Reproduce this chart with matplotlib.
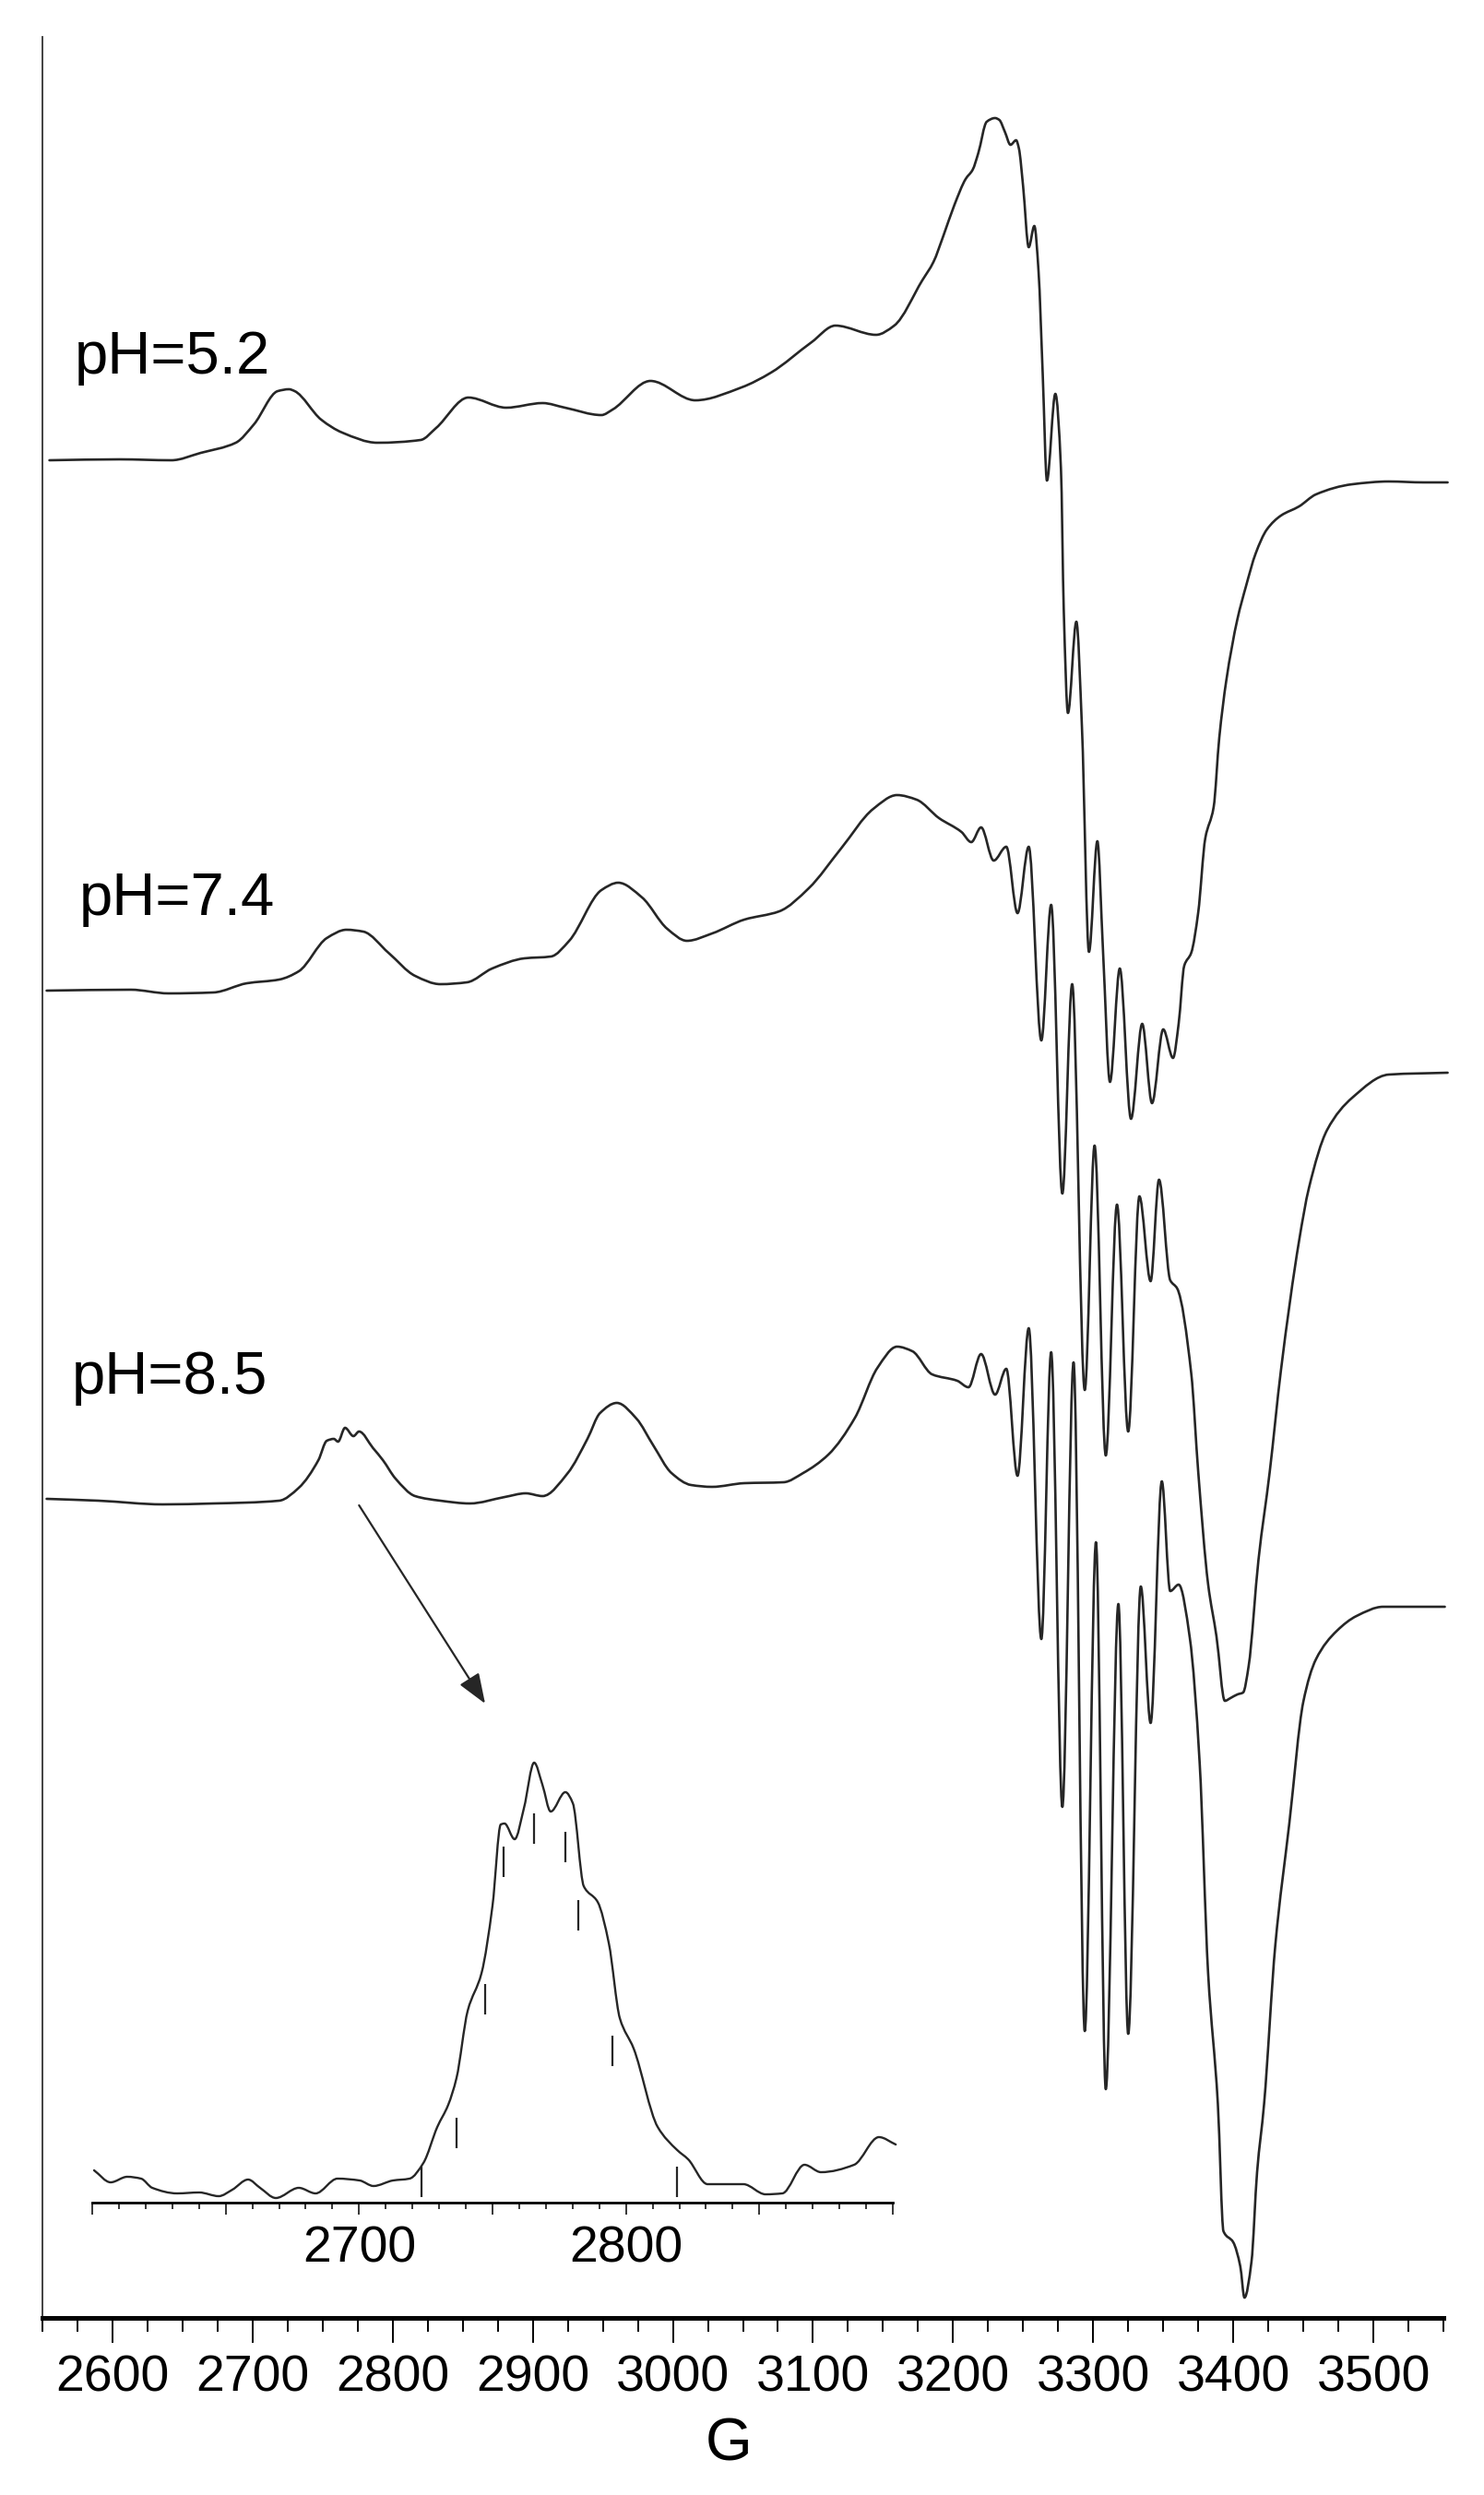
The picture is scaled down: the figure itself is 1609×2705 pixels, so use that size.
import numpy as np
import matplotlib
matplotlib.use('Agg')
import matplotlib.pyplot as plt
from matplotlib.ticker import MultipleLocator, FixedLocator, FixedFormatter
from matplotlib.path import Path
from matplotlib.patches import PathPatch

plt.rcParams['font.family'] = ['Liberation Sans', 'DejaVu Sans']

# ---------------- data (field in G, intensity in arbitrary units) ----------------
labels = ["pH=5.2", "pH=7.4", "pH=8.5"]
offsets = [2014, 1439, 887]

field_52 = [2555, 2605, 2642, 2663, 2688, 2701, 2718, 2726, 2730, 2749, 2764, 2789, 2820, 2831,
            2854, 2881, 2907, 2923, 2949, 2957, 2984, 3016, 3049, 3070, 3099, 3116, 3145, 3158,
            3178, 3186, 3193, 3201, 3209, 3214, 3218, 3224, 3230, 3233, 3237, 3241, 3245, 3247,
            3250, 3254, 3258, 3261, 3264, 3267, 3273, 3277, 3279, 3282, 3288, 3292, 3297, 3303,
            3307, 3312, 3319, 3327, 3335, 3342, 3350, 3357, 3361, 3365, 3370, 3375, 3380, 3386,
            3390, 3395, 3403, 3409, 3416, 3424, 3434, 3447, 3459, 3485, 3511, 3536, 3553]
int_52 = [0, 1, 0, 8, 19, 39, 75, 77, 75, 44, 30, 19, 22, 35,
          68, 57, 62, 57, 49, 55, 86, 65, 79, 95, 128, 146, 136, 146,
          195, 215, 243, 277, 305, 315, 333, 367, 371, 369, 356, 342, 347, 338,
          297, 231, 254, 205, 93, -22, 72, -9, -162, -274, -175, -290, -533, -413,
          -531, -674, -551, -714, -611, -697, -617, -648, -611, -548, -534, -490, -410, -376,
          -301, -239, -172, -137, -101, -75, -60, -50, -37, -26, -23, -24, -24]

field_74 = [2553, 2613, 2640, 2672, 2696, 2719, 2733, 2753, 2767, 2779, 2797, 2816, 2834, 2853,
            2871, 2894, 2913, 2926, 2949, 2961, 2978, 2996, 3010, 3028, 3051, 3076, 3097, 3120,
            3143, 3160, 3174, 3190, 3206, 3213, 3220, 3229, 3238, 3246, 3254, 3263, 3270, 3278,
            3285, 3294, 3301, 3309, 3317, 3325, 3333, 3341, 3347, 3355, 3360, 3370, 3375, 3382,
            3388, 3394, 3398, 3403, 3407, 3411, 3418, 3426, 3434, 3447, 3454, 3467, 3485, 3511,
            3553]
int_74 = [0, 1, -3, -2, 8, 12, 21, 57, 66, 64, 41, 16, 7, 9,
          24, 35, 37, 54, 109, 117, 101, 67, 54, 62, 77, 86, 111, 154,
          197, 212, 207, 187, 172, 161, 177, 141, 156, 84, 156, -54, 93, -220,
          7, -433, -168, -504, -232, -478, -223, -315, -205, -314, -323, -415, -522, -643,
          -700, -770, -767, -763, -761, -732, -617, -522, -412, -271, -214, -151, -116, -91,
          -89]

field_85 = [2553, 2590, 2636, 2672, 2719, 2733, 2747, 2753, 2758, 2761, 2766, 2772, 2776, 2786,
            2793, 2802, 2816, 2834, 2855, 2880, 2895, 2907, 2925, 2939, 2948, 2960, 2974, 2986,
            2999, 3013, 3028, 3051, 3079, 3093, 3111, 3130, 3146, 3160, 3171, 3185, 3203, 3211,
            3220, 3230, 3238, 3246, 3254, 3263, 3270, 3278, 3286, 3294, 3302, 3309, 3318, 3325,
            3334, 3341, 3349, 3355, 3361, 3369, 3376, 3382, 3389, 3393, 3400, 3405, 3408, 3413,
            3417, 3422, 3430, 3440, 3450, 3459, 3474, 3488, 3507, 3551]
int_85 = [1, -1, -5, -4, -1, 13, 43, 64, 66, 63, 78, 69, 74, 56,
          43, 23, 4, -1, -4, 3, 7, 4, 29, 66, 94, 105, 88, 59,
          29, 16, 14, 18, 19, 29, 49, 89, 143, 166, 161, 136, 129, 122,
          158, 114, 142, 26, 186, -151, 160, -333, 149, -576, -46, -639, -113, -579,
          -94, -242, 20, -99, -92, -150, -285, -512, -655, -793, -805, -831, -865, -826,
          -729, -655, -483, -351, -219, -173, -142, -126, -116, -116]

# inset: expanded view of the low-field pH=8.5 line
inset_field = [2600.7, 2606.9, 2613.1, 2618.3, 2622.5, 2631.8, 2640.1, 2647.4, 2652.5, 2658.4,
               2662.9, 2668.8, 2677.4, 2683.7, 2691.9, 2700.2, 2705.4, 2712.7, 2718.9, 2724.1,
               2729.3, 2733.4, 2736.5, 2740.7, 2745.9, 2750.0, 2753.1, 2754.5, 2758.3, 2761.8,
               2765.6, 2768.7, 2771.8, 2777.3, 2780.1, 2784.2, 2789.4, 2793.6, 2797.7, 2802.9,
               2811.9, 2819.2, 2823.3, 2830.6, 2836.8, 2844.0, 2852.3, 2858.6, 2866.9, 2873.1,
               2885.5, 2894.8, 2901.1]
inset_int = [35, 22, 28, 26, 16, 10, 11, 7, 14, 25,
             16, 5, 16, 10, 26, 24, 18, 24, 26, 43,
             82, 106, 135, 208, 249, 322, 410, 411, 394, 428,
             477, 453, 424, 445, 433, 343, 326, 281, 200, 167,
             82, 57, 47, 20, 20, 20, 9, 10, 41, 33,
             41, 71, 63]
stick_field = [2723.4, 2736.5, 2747.3, 2754.2, 2765.6, 2777.3, 2782.2, 2795.0, 2819.2]
stick_top = [39, 92, 237, 386, 422, 402, 328, 181, 39]
inset_ticks = [2600, 2650, 2700, 2750, 2800, 2850, 2900]
inset_ticklabels = ["", "", "2700", "", "2800", "", ""]


def smooth_path(x, y):
    """Monotone cubic (Bezier) path passing through the read points."""
    x = np.asarray(x, float)
    y = np.asarray(y, float)
    h = np.diff(x)
    d = np.diff(y) / h
    m = np.zeros_like(x)
    m[0], m[-1] = d[0], d[-1]
    for k in range(1, len(x) - 1):
        if d[k - 1] * d[k] > 0:
            w1 = 2 * h[k] + h[k - 1]
            w2 = h[k] + 2 * h[k - 1]
            m[k] = (w1 + w2) / (w1 / d[k - 1] + w2 / d[k])
    verts = [(x[0], y[0])]
    codes = [Path.MOVETO]
    for k in range(len(x) - 1):
        verts += [(x[k] + h[k] / 3, y[k] + m[k] * h[k] / 3),
                  (x[k + 1] - h[k] / 3, y[k + 1] - m[k + 1] * h[k] / 3),
                  (x[k + 1], y[k + 1])]
        codes += [Path.CURVE4] * 3
    return Path(verts, codes)


# ---------------- figure ----------------
W, H = 1609, 2705
fig = plt.figure(figsize=(W / 100, H / 100), dpi=100)
LC = '#262626'

ax = fig.add_axes([46 / W, (H - 2513) / H, (1565 - 46) / W, 2473 / H])
ax.set_xlim(2550, 3550)
ax.set_ylim(0, 2473)
for s in ['top', 'right']:
    ax.spines[s].set_visible(False)
ax.spines['bottom'].set_linewidth(3.6)
ax.spines['bottom'].set_color('black')
ax.spines['left'].set_linewidth(1.3)
ax.spines['left'].set_color('#333333')
ax.set_yticks([])
ax.xaxis.set_major_locator(MultipleLocator(100))
ax.xaxis.set_minor_locator(MultipleLocator(25))
ax.tick_params(axis='x', which='major', direction='out', length=19.5, width=1.4,
               labelsize=40, pad=9, color='black')
ax.tick_params(axis='x', which='minor', direction='out', length=10.8, width=1.4, color='black')

series = [(field_52, int_52), (field_74, int_74), (field_85, int_85)]
for (f, v), off in zip(series, offsets):
    p = smooth_path(f, np.asarray(v) + off)
    ax.add_patch(PathPatch(p, fill=False, edgecolor=LC, lw=1.9, clip_on=False,
                           joinstyle='round', capstyle='round', transform=ax.transData))

label_pos = [(2573, 2108), (2576, 1521), (2571, 1002)]
for lab, (lx, ly) in zip(labels, label_pos):
    ax.text(lx, ly, lab, fontsize=47, ha='left', va='baseline', color='black')

ax.annotate('', xy=(2866, 666), xytext=(2776, 881),
            arrowprops=dict(arrowstyle='-|>,head_length=1.0,head_width=0.38',
                            mutation_scale=20, color=LC, lw=1.6, shrinkA=0, shrinkB=0))

ax.set_xlabel('G', fontsize=47)
ax.xaxis.set_label_coords((790 - 46) / 1519, -(2667 - 2513) / 2473)
ax.xaxis.label.set_va('baseline')

# ---------------- inset ----------------
axi = fig.add_axes([100 / W, (H - 2388) / H, 868 / W, 508 / H])
axi.patch.set_alpha(0)
axi.set_xlim(2600, 2900)
axi.set_ylim(0, 508)
for s in ['top', 'right', 'left']:
    axi.spines[s].set_visible(False)
axi.spines['bottom'].set_linewidth(2.0)
axi.set_yticks([])
axi.xaxis.set_major_locator(FixedLocator(inset_ticks))
axi.xaxis.set_major_formatter(FixedFormatter(inset_ticklabels))
axi.xaxis.set_minor_locator(MultipleLocator(10))
axi.tick_params(axis='x', which='major', direction='out', length=9.4, width=1.1,
                labelsize=40, pad=8)
axi.tick_params(axis='x', which='minor', direction='out', length=5, width=1.1)
pi = smooth_path(inset_field, inset_int)
axi.add_patch(PathPatch(pi, fill=False, edgecolor=LC, lw=1.7, clip_on=False,
                        joinstyle='round', capstyle='round', transform=axi.transData))
axi.vlines(stick_field, np.asarray(stick_top) - 33, stick_top, color=LC, lw=1.6)

fig.savefig('out.png', dpi=100)
